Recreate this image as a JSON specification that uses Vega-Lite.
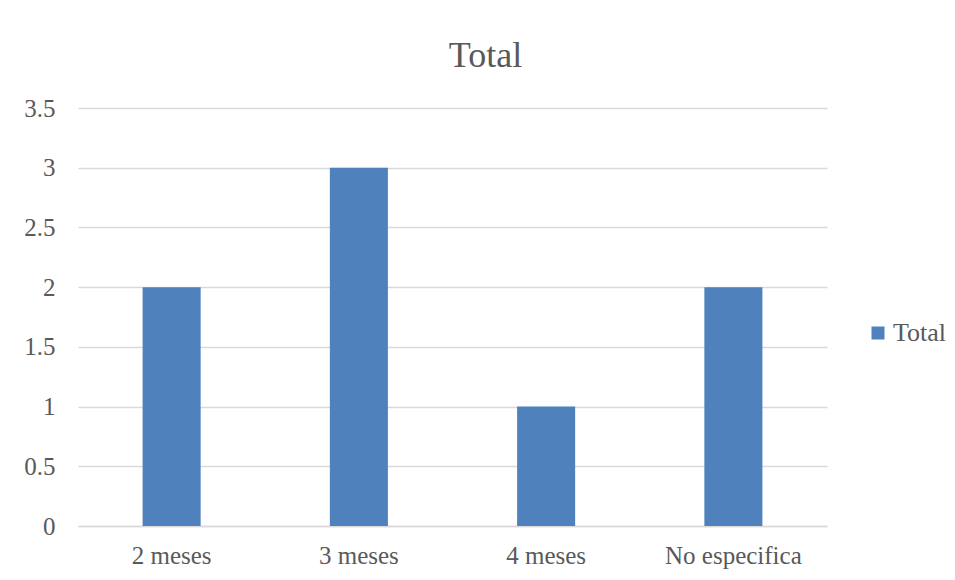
{
  "$schema": "https://vega.github.io/schema/vega-lite/v6.json",
  "autosize": {"type": "none"},
  "padding": {"left": 78, "top": 108, "right": 128, "bottom": 54},
  "width": 749,
  "height": 418,
  "background": "white",
  "title": {
    "text": "Total",
    "font": "Liberation Serif",
    "fontSize": 36,
    "fontWeight": "normal",
    "color": "#595959",
    "anchor": "middle",
    "frame": "group",
    "dx": 33,
    "dy": 37,
    "baseline": "alphabetic",
    "offset": 30
  },
  "data": {
    "values": [
      {"categoria": "2 meses", "valor": 2, "serie": "Total"},
      {"categoria": "3 meses", "valor": 3, "serie": "Total"},
      {"categoria": "4 meses", "valor": 1, "serie": "Total"},
      {"categoria": "No especifica", "valor": 2, "serie": "Total"}
    ]
  },
  "mark": {"type": "bar", "color": "#4f81bd"},
  "encoding": {
    "x": {
      "field": "categoria",
      "type": "nominal",
      "sort": null,
      "title": null,
      "scale": {"paddingInner": 0.69, "paddingOuter": 0.345},
      "axis": {
        "labelAngle": 0,
        "labelFont": "Liberation Serif",
        "labelFontSize": 25,
        "labelColor": "#595959",
        "labelPadding": 17,
        "ticks": false,
        "domainColor": "#d9d9d9",
        "domainWidth": 1.5
      }
    },
    "y": {
      "field": "valor",
      "type": "quantitative",
      "title": null,
      "scale": {"domain": [0, 3.5], "nice": false},
      "axis": {
        "values": [0, 0.5, 1, 1.5, 2, 2.5, 3, 3.5],
        "format": "~g",
        "labelFont": "Liberation Serif",
        "labelFontSize": 25,
        "labelColor": "#595959",
        "labelPadding": 23,
        "ticks": false,
        "domain": false,
        "gridColor": "#d9d9d9",
        "gridWidth": 1.5
      }
    },
    "color": {
      "field": "serie",
      "type": "nominal",
      "scale": {"range": ["#4f81bd"]},
      "legend": {
        "title": null,
        "orient": "none",
        "legendX": 787,
        "legendY": 212,
        "symbolType": "square",
        "symbolSize": 169,
        "symbolStrokeWidth": 0,
        "labelFont": "Liberation Serif",
        "labelFontSize": 26,
        "labelColor": "#595959",
        "labelOffset": 2
      }
    }
  },
  "config": {"view": {"stroke": null}}
}
